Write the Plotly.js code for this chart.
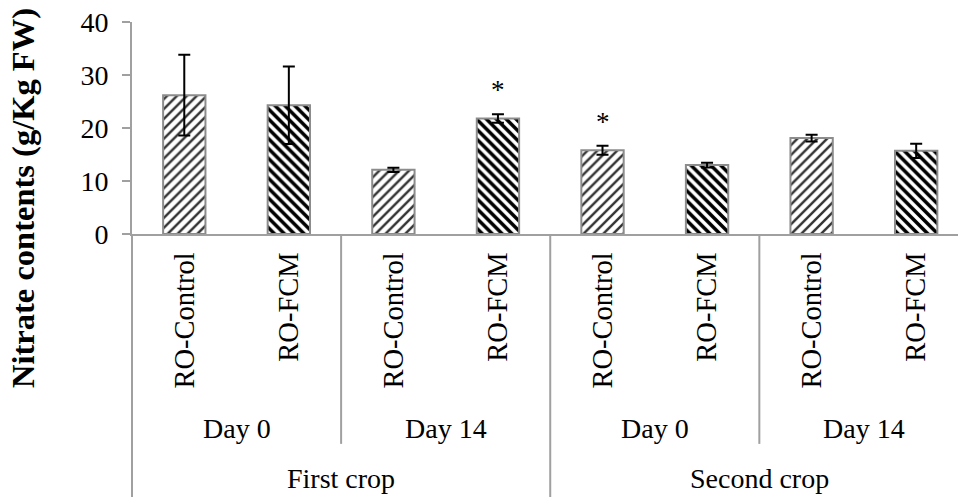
<!DOCTYPE html>
<html>
<head>
<meta charset="utf-8">
<script src="https://cdn.plot.ly/plotly-3.0.1.min.js"></script>
<style>
  html, body { margin: 0; padding: 0; background: #fff; }
  #chart { width: 958px; height: 497px; }
</style>
</head>
<body>
<div id="chart"></div>
<script>
// Treatments, sampling days and crops (three-level category axis)
const treatments = ["RO-Control", "RO-FCM", "RO-Control", "RO-FCM", "RO-Control", "RO-FCM", "RO-Control", "RO-FCM"];
const days = ["Day 0", "Day 14", "Day 0", "Day 14"];
const crops = ["First crop", "Second crop"];

// Nitrate contents (g/Kg FW) and standard errors
const nitrate = [26.2, 24.3, 12.1, 21.8, 15.8, 13.0, 18.1, 15.7];
const nitrateErr = [7.6, 7.3, 0.4, 0.8, 0.85, 0.45, 0.65, 1.35];

// Significance marks shown above the bars
const signif = ["", "", "", "*", "*", "", "", ""];

const FONT = "Liberation Serif, Times New Roman, serif";
const AXIS_GREY = "#a0a0a0";

const idx = treatments.map((_, i) => i);
const controlIdx = idx.filter(i => treatments[i] === "RO-Control");
const fcmIdx = idx.filter(i => treatments[i] === "RO-FCM");

function barTrace(ids, shape, fg, size, solidity) {
  return {
    type: "bar",
    x: ids,
    y: ids.map(i => nitrate[i]),
    width: 0.405,
    marker: {
      color: "#ffffff",
      line: { color: "#8c8c8c", width: 2 },
      pattern: {
        shape: shape, fgcolor: fg, fgopacity: 1, bgcolor: "#ffffff",
        size: size, solidity: solidity, fillmode: "overlay"
      }
    },
    error_y: {
      type: "data",
      array: ids.map(i => nitrateErr[i]),
      visible: true,
      color: "#000000",
      thickness: 2,
      width: 6
    },
    hoverinfo: "skip",
    showlegend: false
  };
}

const traces = [
  barTrace(controlIdx, "/", "#333333", 7, 0.35),
  barTrace(fcmIdx, "\\", "#000000", 7, 0.5)
];

const annotations = [];
const shapes = [];

// Asterisks above significant bars
idx.forEach(i => {
  if (signif[i]) {
    annotations.push({
      x: i, y: nitrate[i] + nitrateErr[i], xref: "x", yref: "y",
      text: signif[i], showarrow: false, yanchor: "middle", yshift: 24,
      font: { family: FONT, size: 27, color: "#000" }
    });
  }
});

// Day labels, one per pair of bars
days.forEach((d, k) => {
  annotations.push({
    x: 2 * k + 0.5, y: -0.918, xref: "x", yref: "paper",
    text: d, showarrow: false, yanchor: "middle",
    font: { family: FONT, size: 28, color: "#000" }
  });
});

// Crop labels, one per group of four bars
crops.forEach((c, k) => {
  annotations.push({
    x: 4 * k + 1.5, y: -1.155, xref: "x", yref: "paper",
    text: c, showarrow: false, yanchor: "middle",
    font: { family: FONT, size: 28, color: "#000" }
  });
});

// Y axis title
annotations.push({
  x: 0, y: 0.17, xref: "paper", yref: "paper", xshift: -109,
  text: "<b>Nitrate contents (g/Kg FW)</b>", textangle: -90, showarrow: false,
  xanchor: "center", yanchor: "middle",
  font: { family: FONT, size: 32.5, color: "#000" }
});

// Group dividers below the category axis
[1.5, 5.5].forEach(x => {
  shapes.push({ type: "line", xref: "x", yref: "paper", x0: x, x1: x, y0: 0, y1: -0.99,
    line: { color: AXIS_GREY, width: 2 } });
});
[3.5].forEach(x => {
  shapes.push({ type: "line", xref: "x", yref: "paper", x0: x, x1: x, y0: 0, y1: -1.25,
    line: { color: AXIS_GREY, width: 2 } });
});
// Left axis extends through the label rows
shapes.push({ type: "line", xref: "paper", yref: "paper", x0: 0, x1: 0, y0: 0, y1: -1.25,
  line: { color: AXIS_GREY, width: 2 } });

const layout = {
  width: 958, height: 497,
  margin: { l: 132, r: 0, t: 22, b: 263 },
  paper_bgcolor: "#fff", plot_bgcolor: "#fff",
  barmode: "overlay",
  font: { family: FONT, size: 28, color: "#000" },
  xaxis: {
    range: [-0.5, 7.4],
    tickvals: idx, ticktext: treatments,
    tickangle: -90,
    ticks: "",
    ticklabelstandoff: 5,
    showline: true, linecolor: AXIS_GREY, linewidth: 2,
    showgrid: false, zeroline: false,
    tickfont: { family: FONT, size: 28.5, color: "#000" },
    fixedrange: true
  },
  yaxis: {
    range: [0, 40],
    tickvals: [0, 10, 20, 30, 40],
    ticks: "outside", ticklen: 8, tickwidth: 2, tickcolor: AXIS_GREY,
    showline: true, linecolor: AXIS_GREY, linewidth: 2,
    showgrid: false, zeroline: false,
    ticklabelstandoff: 8,
    tickfont: { family: FONT, size: 28, color: "#000" },
    fixedrange: true
  },
  annotations: annotations,
  shapes: shapes
};

Plotly.newPlot("chart", traces, layout, { displayModeBar: false, staticPlot: true });
</script>
</body>
</html>
